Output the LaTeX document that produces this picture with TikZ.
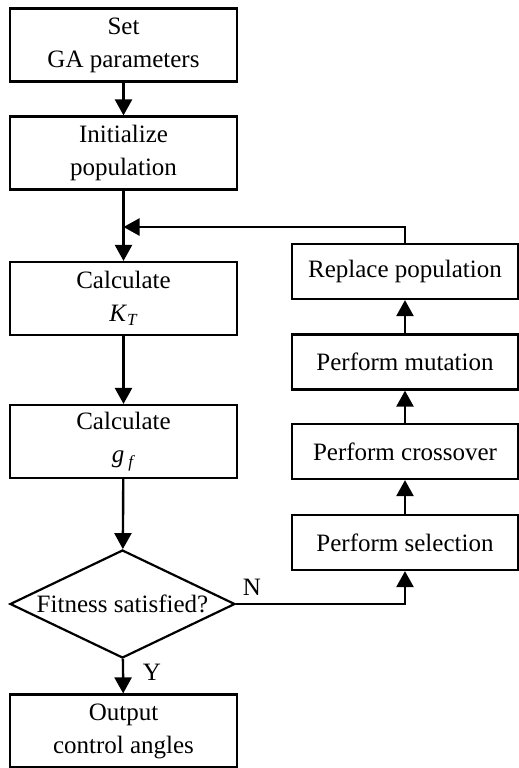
\documentclass[tikz,border=0pt]{standalone}
\usepackage{fontspec}
\setmainfont{Liberation Serif}
\usetikzlibrary{positioning,arrows.meta,shapes.geometric}
\newcommand{\gafont}{\fontsize{12.5}{16.5}\selectfont}
\newcommand{\subtxt}[1]{\raisebox{-0.4ex}{\fontsize{8.5}{9}\selectfont\textit{#1}}}
\tikzset{
  stepbox/.style  = {rectangle, draw, line width=1.1pt, minimum width=113.5pt,
                     minimum height=36.5pt, inner sep=2pt, align=center, font=\gafont},
  loopbox/.style  = {rectangle, draw, line width=1.1pt, minimum width=113pt,
                     minimum height=27.5pt, inner sep=2pt, font=\gafont},
  testnode/.style = {diamond, draw, line width=1.1pt, aspect=2.08, inner sep=0pt,
                     minimum width=112.5pt, minimum height=54pt, font=\gafont},
  flowedge/.style = {-{Triangle[width=8.5pt,length=8pt]}, line width=1.2pt},
  edgelbl/.style  = {font=\gafont, inner sep=0pt}
}

\begin{document}
\begin{tikzpicture}[x=0.5pt, y=0.5pt]
  \useasboundingbox (0,0) rectangle (519,-768);
  % Main column
  \node[stepbox]  (setp)  at (123.5, -45)   {Set\\GA parameters};
  \node[stepbox]  (init)  at (123.5,-153)   {Initialize\\population};
  \node[stepbox]  (calcK) at (123.5,-298.5) {Calculate\\\textit{K}\subtxt{T}};
  \node[stepbox]  (calcg) at (123.5,-441.5) {Calculate\\\textit{g}\,\subtxt{f}};
  \node[testnode] (fit)   at (122.5,-604)   {Fitness satisfied?};
  \node[stepbox]  (outp)  at (123.5,-731)   {Output\\control angles};
  % Loop column
  \node[loopbox]  (repl)  at (405,-271.5) {Replace population};
  \node[loopbox]  (mut)   at (405,-362)   {Perform mutation};
  \node[loopbox]  (cross) at (405,-451.5) {Perform crossover};
  \node[loopbox]  (sel)   at (405,-542.5) {Perform selection};
  \coordinate (join) at (123.5,-227);
  % Branch labels
  \node[edgelbl] (lblN) at (252,-587) {N};
  \node[edgelbl] (lblY) at (152,-672) {Y};
  % Edges
  \draw[flowedge] (setp)  -- (init);
  \draw[flowedge] (init)  -- (calcK);
  \draw[flowedge] (calcK) -- (calcg);
  \draw[flowedge] (calcg) -- (fit);
  \draw[flowedge] (fit)   -- (outp);
  \draw[flowedge] (fit.east) -| (sel.south);
  \draw[flowedge] (sel)   -- (cross);
  \draw[flowedge] (cross) -- (mut);
  \draw[flowedge] (mut)   -- (repl);
  \draw[flowedge] (repl.north) |- (join);
\end{tikzpicture}
\end{document}
